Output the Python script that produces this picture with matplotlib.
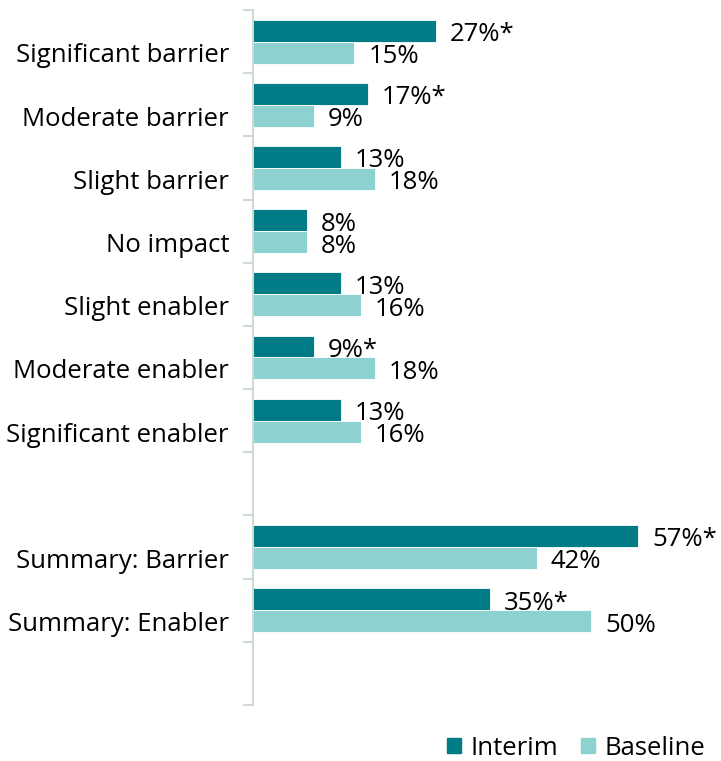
import numpy as np
import matplotlib.pyplot as plt
from matplotlib.patches import Patch
from matplotlib.transforms import offset_copy

plt.rcParams["font.family"] = ["Open Sans", "DejaVu Sans"]

# Response categories; empty strings are spacer rows
categories = [
    "Significant barrier",
    "Moderate barrier",
    "Slight barrier",
    "No impact",
    "Slight enabler",
    "Moderate enabler",
    "Significant enabler",
    "",
    "Summary: Barrier",
    "Summary: Enabler",
    "",
]
interim = [27, 17, 13, 8, 13, 9, 13, None, 57, 35, None]
baseline = [15, 9, 18, 8, 16, 18, 16, None, 42, 50, None]
# significant change from baseline
interim_sig = [True, True, False, False, False, True, False, False, True, True, False]

INTERIM_COLOR = "#017b86"
BASELINE_COLOR = "#8dd1d1"
AXIS_COLOR = "#d0d9d4"
FONT_SIZE = 18.5

fig = plt.figure(figsize=(7.21, 7.61), dpi=100)
ax = fig.add_axes([253 / 721, 56 / 761, 60 * 6.76 / 721, 695 / 761])

pos = np.arange(len(categories))
bar_h = 0.348
for i, (a, b) in enumerate(zip(interim, baseline)):
    if a is None:
        continue
    ax.barh(pos[i] - bar_h / 2, a, height=bar_h, color=INTERIM_COLOR,
            edgecolor="white", linewidth=0.6)
    ax.barh(pos[i] + bar_h / 2, b, height=bar_h, color=BASELINE_COLOR,
            edgecolor="white", linewidth=0.6)
    label_a = f"{a}%" + ("*" if interim_sig[i] else "")
    ax.annotate(label_a, (a, pos[i] - bar_h / 2 + 0.165), xytext=(14, 0),
                textcoords="offset pixels", va="baseline", ha="left",
                fontsize=FONT_SIZE, annotation_clip=False)
    ax.annotate(f"{b}%", (b, pos[i] + bar_h / 2 + 0.165), xytext=(14, 0),
                textcoords="offset pixels", va="baseline", ha="left",
                fontsize=FONT_SIZE, annotation_clip=False)

# category labels sit right of the tick marks
label_tr = offset_copy(ax.get_yaxis_transform(), fig=fig, x=-24, y=0, units="dots")
for i, name in enumerate(categories):
    ax.text(0, pos[i] + 0.33, name, transform=label_tr, ha="right",
            va="baseline", fontsize=FONT_SIZE)

ax.set_xlim(0, 60)
ax.set_ylim(len(categories) - 0.5, -0.5)
ax.set_yticks(np.arange(len(categories) + 1) - 0.5)
ax.set_yticklabels([])
ax.tick_params(axis="y", length=7, width=1.5, color=AXIS_COLOR, direction="out")
ax.set_xticks([])
for side in ["top", "right", "bottom"]:
    ax.spines[side].set_visible(False)
ax.spines["left"].set_color(AXIS_COLOR)
ax.spines["left"].set_linewidth(1.5)

handles = [Patch(color=INTERIM_COLOR, label="Interim"),
           Patch(color=BASELINE_COLOR, label="Baseline")]
fig.legend(handles=handles, loc="center right", bbox_to_anchor=(0.978, 0.017),
           ncol=2, frameon=False, fontsize=FONT_SIZE, handlelength=0.55,
           handleheight=0.55, handletextpad=0.35, columnspacing=0.9,
           borderpad=0, borderaxespad=0)

fig.savefig("out.png", dpi=100)
